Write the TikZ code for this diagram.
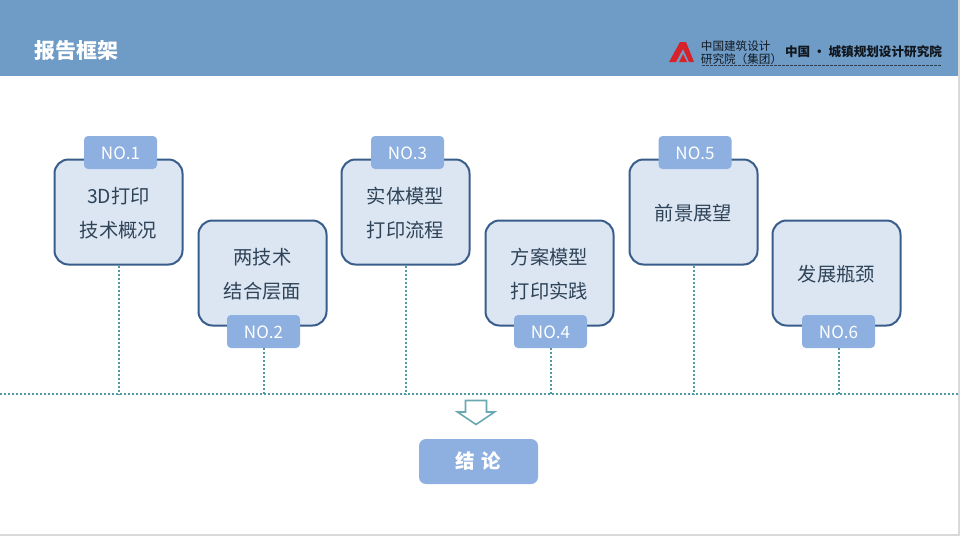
\documentclass[tikz,border=0pt]{standalone}
\usepackage{fontspec}
\setmainfont{Noto Sans CJK SC}

\definecolor{headblue}{HTML}{6F9CC7}
\definecolor{boxfill}{HTML}{DCE6F2}
\definecolor{boxline}{HTML}{385D8A}
\definecolor{tagblue}{HTML}{8EB0E0}
\definecolor{dotteal}{HTML}{4F9AA5}
\definecolor{txtblue}{HTML}{2F4358}
\definecolor{logored}{HTML}{D8222A}

\tikzset{
	topicbox/.style={draw=boxline,line width=2pt,fill=boxfill,rounded corners=14pt,minimum width=128pt,minimum height=105pt,inner sep=0pt},
	topictxt/.style={inner sep=0pt,yshift=-1.5pt,align=center,text=txtblue,font=\fontsize{19.3}{34}\selectfont},
	tagbox/.style={fill=tagblue,rounded corners=4pt,minimum width=73pt,minimum height=33pt,inner sep=0pt,text height=13.5pt,text depth=0pt,text=white,font=\fontsize{17}{18}\selectfont},
	dotline/.style={dotteal,line width=2pt,dash pattern=on 2pt off 2pt},
	logotext/.style={inner sep=0pt,text=black!85!headblue}
}

\begin{document}
\begin{tikzpicture}[x=1pt,y=-1pt]
	\useasboundingbox (0,0) rectangle (960,536);
	\fill[white] (0,0) rectangle (960,536);
	\fill[headblue] (0,0) rectangle (958,76);
	\draw[black!15,line width=1.5pt] (959,0) -- (959,535) -- (0,535);

	\node[inner sep=0pt,text=white,font=\fontsize{21}{21}\selectfont\bfseries] (title) at (76,51) {报告框架};

	% logo
	\fill[logored] (669,62) -- (680,42) -- (686,42) -- (694,62) -- (689,62) -- (683,49) -- (676,62) -- cycle;
	\fill[logored] (679,62) -- (683,54) -- (687,62) -- cycle;
	\node[logotext,font=\fontsize{11.6}{12.5}\selectfont,align=left] (group) at (741.5,52.5) {中国建筑设计\\研究院（集团）};
	\node[logotext,font=\fontsize{12.6}{13}\selectfont\bfseries] (inst) at (863.5,52) {中国 · 城镇规划设计研究院};
	\draw[black!60!headblue,line width=1.5pt,dash pattern=on 3pt off 1pt] (702,65.5) -- (941,65.5);

	% topics
	\node[topicbox] (box1) at (118.5,212) {};
	\node[topictxt] (txt1) at (box1) {3D打印\\技术概况};
	\node[topicbox] (box2) at (262.5,273) {};
	\node[topictxt] (txt2) at (box2) {两技术\\结合层面};
	\node[topicbox] (box3) at (405.5,212) {};
	\node[topictxt] (txt3) at (box3) {实体模型\\打印流程};
	\node[topicbox] (box4) at (549.5,273) {};
	\node[topictxt] (txt4) at (box4) {方案模型\\打印实践};
	\node[topicbox] (box5) at (693.5,212) {};
	\node[topictxt] (txt5) at (box5) {前景展望};
	\node[topicbox] (box6) at (836.5,273) {};
	\node[topictxt] (txt6) at (box6) {发展瓶颈};

	\node[tagbox] (tag1) at (120.5,152.5) {NO.1};
	\node[tagbox] (tag2) at (263.5,331.5) {NO.2};
	\node[tagbox] (tag3) at (407.5,152.5) {NO.3};
	\node[tagbox] (tag4) at (550.5,331.5) {NO.4};
	\node[tagbox] (tag5) at (695,152.5) {NO.5};
	\node[tagbox] (tag6) at (838.5,331.5) {NO.6};

	% baseline
	\coordinate (lineL) at (0,394);
	\coordinate (lineR) at (958,394);
	\draw[dotline] (lineL) -- (lineR);
	\foreach \n in {box1,tag2,box3,tag4,box5,tag6}
	\draw[dotline] ([xshift=.5pt]\n.south) -- ([xshift=.5pt]\n.south |- lineL);

	% result
	\draw[draw=dotteal!85!white,line width=1.6pt,fill=white] (465.5,400.5) -- (486.5,400.5) -- (486.5,412) -- (494.5,412) -- (476,424.5) -- (457.5,412) -- (465.5,412) -- cycle;
	\node[fill=tagblue,rounded corners=7pt,minimum width=119pt,minimum height=45pt,inner sep=0pt,text=white,font=\fontsize{19.5}{19.5}\selectfont\bfseries] (result) at (478.5,461.5) {结\hspace{7pt}论};
\end{tikzpicture}
\end{document}
